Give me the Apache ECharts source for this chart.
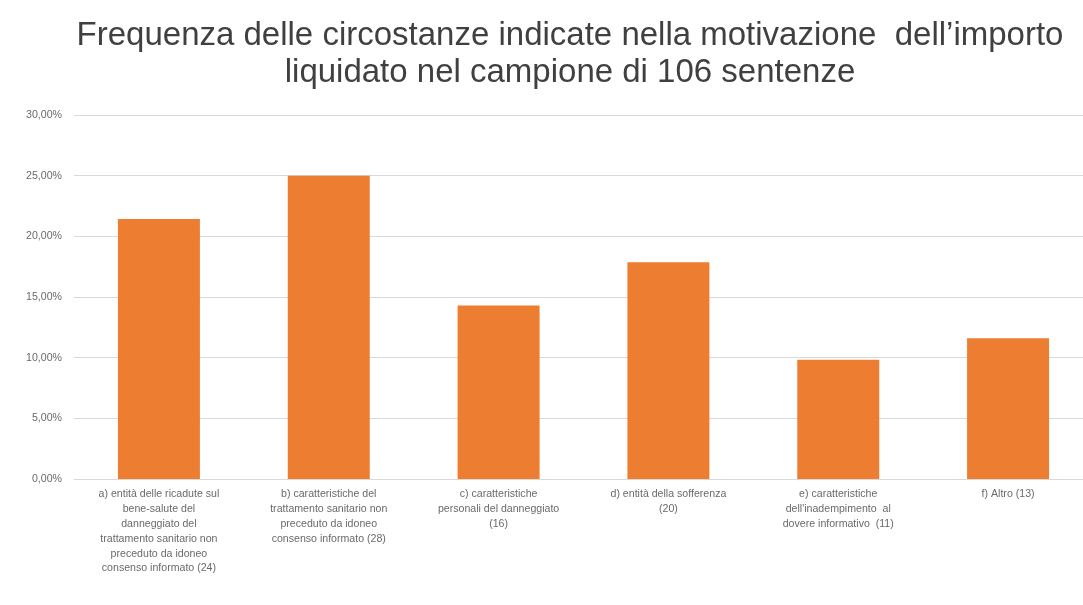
<!DOCTYPE html>
<html>
<head>
<meta charset="utf-8">
<script src="https://cdn.jsdelivr.net/npm/echarts@6/dist/echarts.min.js"></script>
<style>html,body{margin:0;padding:0;background:#fff}#c{width:1083px;height:605px}</style>
</head>
<body>
<div id="c"></div>
<script>
const titleLines = ["Frequenza delle circostanze indicate nella motivazione  dell\u2019importo", "liquidato nel campione di 106 sentenze"];
const categories = [
  "a) entità delle ricadute sul\nbene-salute del\ndanneggiato del\ntrattamento sanitario non\npreceduto da idoneo\nconsenso informato (24)",
  "b) caratteristiche del\ntrattamento sanitario non\npreceduto da idoneo\nconsenso informato (28)",
  "c) caratteristiche\npersonali del danneggiato\n(16)",
  "d) entità della sofferenza\n(20)",
  "e) caratteristiche\ndell'inadempimento  al\ndovere informativo  (11)",
  "f) Altro (13)"
];
const values = [21.43, 25.00, 14.29, 17.86, 9.82, 11.61];
const yTicks = { min: 0, max: 30, interval: 5 };

const chart = echarts.init(document.getElementById('c'));
chart.setOption({
  animation: false,
  backgroundColor: '#ffffff',
  graphic: [{
    type: 'text', x: 570, y: 17,
    style: { text: titleLines.join('\n'), textAlign: 'center', fill: '#404040',
      font: '33px "Liberation Sans", sans-serif', lineHeight: 37 }
  }],
  grid: { left: 74, right: -10, top: 115, bottom: 126, containLabel: false, outerBoundsMode: 'none' },
  xAxis: {
    type: 'category', data: categories,
    axisLine: { lineStyle: { color: '#d9d9d9' } },
    axisTick: { show: false },
    axisLabel: { interval: 0, color: '#6a6a6a', fontSize: 10.6, lineHeight: 14.8, margin: 8,
      fontFamily: '"Liberation Sans", sans-serif' }
  },
  yAxis: {
    type: 'value', min: yTicks.min, max: yTicks.max, interval: yTicks.interval,
    axisLine: { show: false }, axisTick: { show: false },
    splitLine: { lineStyle: { color: '#d9d9d9' } },
    axisLabel: { color: '#6a6a6a', fontSize: 10.6, margin: 12,
      fontFamily: '"Liberation Sans", sans-serif',
      formatter: v => v.toFixed(2).replace('.', ',') + '%' }
  },
  series: [{
    type: 'bar', data: values, barWidth: 82,
    itemStyle: { color: '#ED7D31' }
  }]
});
</script>
</body>
</html>
